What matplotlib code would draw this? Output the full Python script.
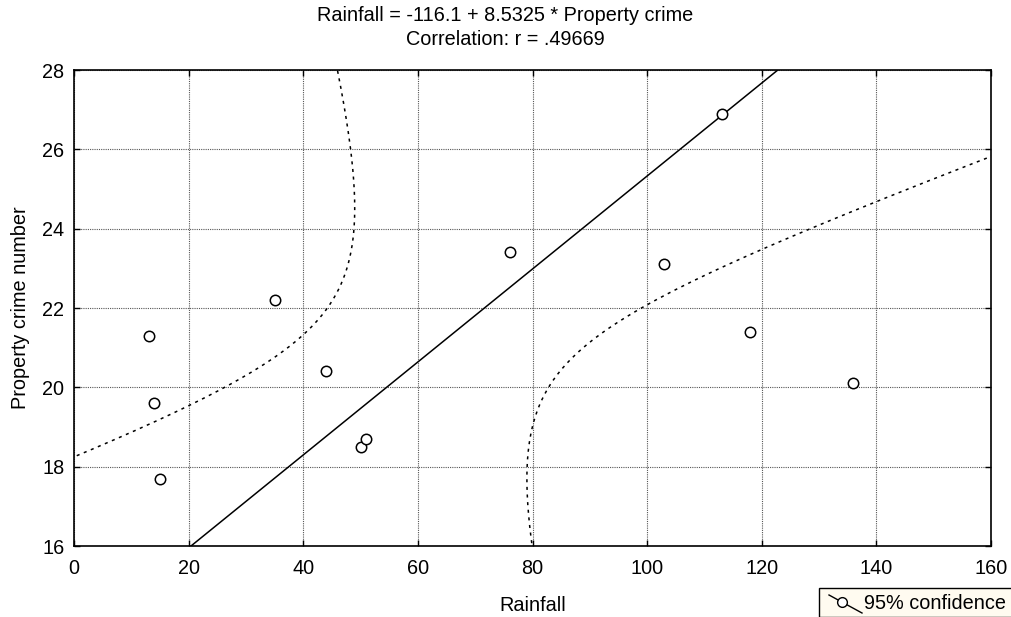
import numpy as np
import matplotlib
matplotlib.use("Agg")
import matplotlib.pyplot as plt
from matplotlib.patches import Rectangle
from matplotlib.lines import Line2D

plt.rcParams["font.family"] = ["Liberation Sans", "DejaVu Sans"]
FS = 14.3

# data
rainfall = [13, 14, 15, 35, 44, 50, 51, 76, 103, 113, 118, 136]
crime = [21.3, 19.6, 17.7, 22.2, 20.4, 18.5, 18.7, 23.4, 23.1, 26.9, 21.4, 20.1]
x_ticks = [0, 20, 40, 60, 80, 100, 120, 140, 160]
y_ticks = [16, 18, 20, 22, 24, 26, 28]
title_lines = ["Rainfall = -116.1 + 8.5325 * Property crime", "Correlation: r = .49669"]
T_CRIT = 2.2281  # t(0.975, df=10)

x = np.array(rainfall, dtype=float)
y = np.array(crime, dtype=float)
n = len(x)

# regression of rainfall on crime, with 95% band for the mean
b, a = np.polyfit(y, x, 1)
resid = x - (a + b * y)
s = np.sqrt(np.sum(resid ** 2) / (n - 2))
syy = np.sum((y - y.mean()) ** 2)
yy = np.linspace(15.5, 28.5, 400)
fit = a + b * yy
half = T_CRIT * s * np.sqrt(1.0 / n + (yy - y.mean()) ** 2 / syy)

fig = plt.figure(figsize=(10.11, 6.17), dpi=100)
ax = fig.add_axes([74 / 1011, 1 - 546 / 617, (991 - 74) / 1011, (546 - 70) / 617])

ax.plot(fit, yy, color="black", lw=1.1)
ax.plot(fit - half, yy, color="black", lw=1.1, ls=(0, (2, 3)))
ax.plot(fit + half, yy, color="black", lw=1.1, ls=(0, (2, 3)))
ax.plot(x, y, "o", ms=7.5, mfc="white", mec="black", mew=1.1, zorder=5)

ax.set_xlim(0, 160)
ax.set_ylim(16, 28)
ax.set_xticks(x_ticks)
ax.set_yticks(y_ticks)
ax.grid(True, color="#555555", ls=(0, (1, 1)), lw=0.8)
ax.tick_params(direction="in", length=4, labelsize=FS, top=True, right=True, width=1)
ax.tick_params(axis="x", pad=9)
ax.tick_params(axis="y", pad=7)
for sp in ax.spines.values():
    sp.set_linewidth(1.2)
ax.set_xlabel("Rainfall", fontsize=FS, labelpad=13)
ax.set_ylabel("Property crime number", fontsize=FS, labelpad=8.5)

fig.text(0.5, 1 - 21 / 617, title_lines[0], ha="center", va="baseline", fontsize=FS)
fig.text(0.5, 1 - 45 / 617, title_lines[1], ha="center", va="baseline", fontsize=FS)

# legend box in the bottom-right corner
fig.patches.append(Rectangle((819 / 1011, 0), 1, (617 - 588) / 617,
                             transform=fig.transFigure, facecolor="#fffbf0",
                             edgecolor="black", lw=1.0))
lx = np.array([829, 842, 862]) / 1011
ly = 1 - np.array([595, 602, 613]) / 617
fig.lines.append(Line2D([lx[0], lx[2]], [ly[0], ly[2]], transform=fig.transFigure,
                        color="black", lw=1.0))
fig.lines.append(Line2D([lx[1]], [ly[1]], transform=fig.transFigure, marker="o",
                        ms=7, mfc="white", mec="black", mew=1.0))
fig.text(864 / 1011, 1 - 609 / 617, "95% confidence", ha="left", va="baseline",
         fontsize=FS)

fig.savefig("out.png", dpi=100)
